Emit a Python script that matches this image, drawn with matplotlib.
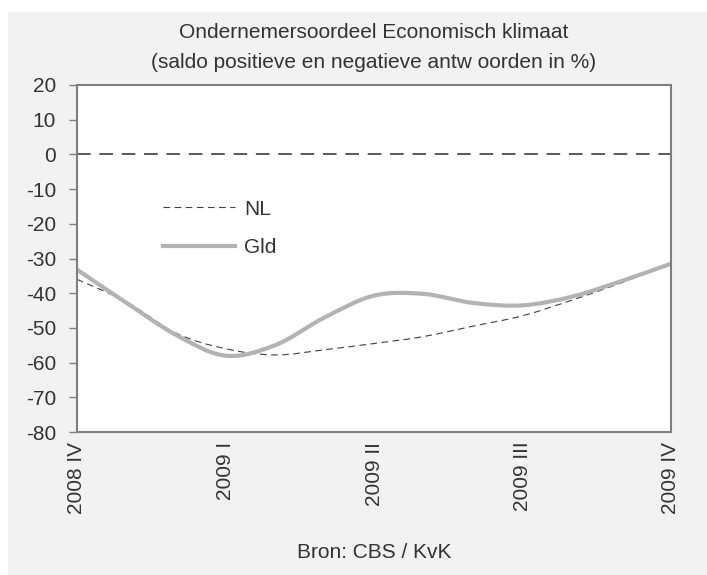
import matplotlib.pyplot as plt
import matplotlib.patches as mpatches
from matplotlib.path import Path
import numpy as np

plt.rcParams['font.family'] = ['Liberation Sans', 'DejaVu Sans']

## DATA (monthly readings, Dec 2008 .. Dec 2009)
months = np.arange(13) / 3.0
nl_vals = [-36, -42.5, -51.5, -56, -57.8, -56.3, -54.5, -52.5, -49.5, -46.5, -42, -37, -31.5]
gld_vals = [-33.2, -42.8, -52, -58, -55, -47, -40.7, -40.2, -42.8, -43.5, -41, -36.5, -31.5]

quarter_pos = [0, 1, 2, 3, 4]
quarter_labels = ['2008 IV', '2009 I', '2009 II', '2009 III', '2009 IV']
y_ticks = list(range(-80, 21, 10))

txt_col = '#333333'
fs = 15


def smooth_path(x, y):
    # spreadsheet-style smoothed line: cubic bezier through the points
    x = np.asarray(x, float)
    y = np.asarray(y, float)
    pts = np.column_stack([x, y])
    verts = [pts[0]]
    codes = [Path.MOVETO]
    n = len(pts)
    for i in range(n - 1):
        p0 = pts[i - 1] if i > 0 else pts[i]
        p1 = pts[i]
        p2 = pts[i + 1]
        p3 = pts[i + 2] if i + 2 < n else pts[i + 1]
        verts += [p1 + (p2 - p0) / 6.0, p2 - (p3 - p1) / 6.0, p2]
        codes += [Path.CURVE4] * 3
    return Path(verts, codes)


fig = plt.figure(figsize=(7.07, 5.75), dpi=100)
fig.patch.set_facecolor('white')
# light gray panel behind the chart
fig.patches.append(mpatches.Rectangle((8/707, 0), 1 - 8/707, 1 - 12/575,
                                      transform=fig.transFigure, facecolor='#f2f2f2',
                                      edgecolor='none', zorder=-10))

ax = fig.add_axes([77/707, 1 - 432/575, (671-77)/707, (432-85)/575])
ax.set_facecolor('white')

ax.axhline(0, color='#595959', lw=1.4, dashes=(7, 4.5))

nl_patch = mpatches.PathPatch(smooth_path(months, nl_vals), facecolor='none',
                              edgecolor='#404040', lw=0.8, linestyle=(0, (6, 4)))
gld_patch = mpatches.PathPatch(smooth_path(months, gld_vals), facecolor='none',
                               edgecolor='#b3b3b3', lw=3, capstyle='butt')
ax.add_patch(nl_patch)
ax.add_patch(gld_patch)

# legend handles
h_nl, = ax.plot([], [], color='#404040', lw=0.8, dashes=(6, 4), label='NL')
h_gld, = ax.plot([], [], color='#b3b3b3', lw=3, label='Gld')

ax.set_xlim(0, 4)
ax.set_ylim(-80, 20)
ax.set_yticks(y_ticks)
ax.set_yticklabels([str(v) for v in y_ticks], fontsize=fs, color=txt_col)
ax.set_xticks(quarter_pos)
ax.set_xticklabels(quarter_labels, rotation=90, fontsize=fs, color=txt_col, va='top')
ax.tick_params(axis='x', length=0, pad=7)
ax.tick_params(axis='y', length=6, width=1, color='#7f7f7f', direction='out', pad=9)

for s in ax.spines.values():
    s.set_color('#7f7f7f')
    s.set_linewidth(1.5)

leg = ax.legend(handles=[h_nl, h_gld], loc='upper left', bbox_to_anchor=(0.145, 0.67),
                frameon=False, fontsize=fs, handlelength=3.45, handletextpad=0.45,
                labelspacing=0.95, borderpad=0, borderaxespad=0)
for t in leg.get_texts():
    t.set_color(txt_col)

fig.text(374/707, 1 - 33/575, 'Ondernemersoordeel Economisch klimaat',
         ha='center', va='center', fontsize=fs, color=txt_col)
fig.text(374/707, 1 - 63/575, '(saldo positieve en negatieve antw oorden in %)',
         ha='center', va='center', fontsize=fs, color=txt_col)
fig.text(374/707, 1 - 553/575, 'Bron: CBS / KvK',
         ha='center', va='center', fontsize=fs, color=txt_col)

plt.savefig('out.png', dpi=100)
